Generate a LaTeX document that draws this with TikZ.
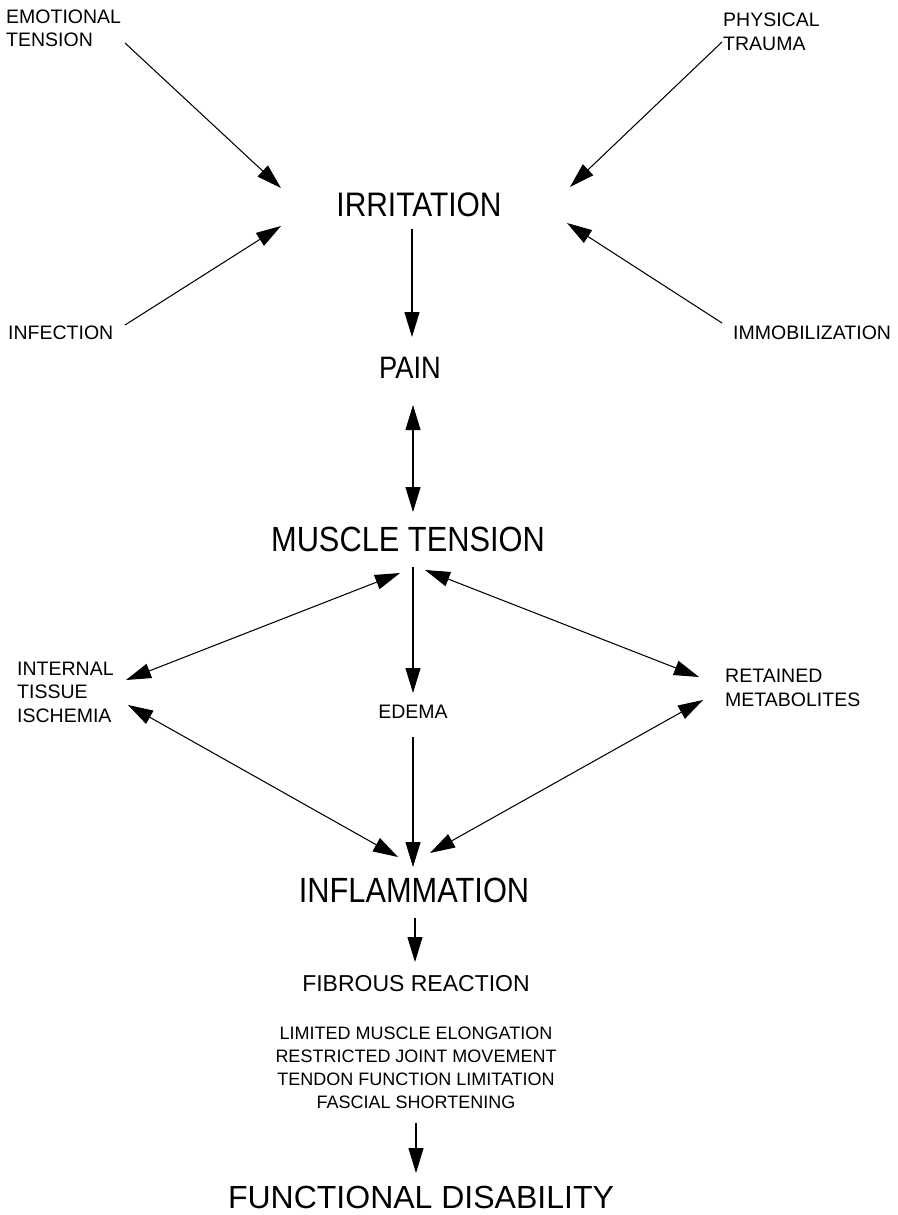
\documentclass[tikz,border=0pt]{standalone}
\usepackage{fontspec}
\setmainfont{Liberation Sans}
\newfontfamily\bigf{Liberation Sans}[FakeStretch=0.88]
\usetikzlibrary{arrows.meta}
\begin{document}
\begin{tikzpicture}[x=1pt,y=-1pt,
  lbl/.style={inner sep=0pt,font=\fontsize{19.5}{23.5}\selectfont,align=left},
  big/.style={inner sep=0pt,font=\bigf\fontsize{#1}{#1}\selectfont},
  arr/.style={line width=1.05pt,-{Triangle[length=25pt,width=15pt]}},
  darr/.style={line width=1.05pt,{Triangle[length=25pt,width=15pt]}-{Triangle[length=25pt,width=15pt]}}]
\useasboundingbox[fill=white] (0,0) rectangle (897,1215);

% nodes
\node[lbl,anchor=west] (emo) at (6,28.5) {EMOTIONAL\\TENSION};
\node[lbl,anchor=west] (phy) at (723,32) {PHYSICAL\\TRAUMA};
\node[lbl,anchor=west] (inf) at (8,333) {INFECTION};
\node[lbl,anchor=west] (imm) at (733,333) {IMMOBILIZATION};
\node[big=34] (irr) at (419,205) {IRRITATION};
\node[big=31] (pain) at (410,368) {PAIN};
\node[big=35] (mus) at (408,539) {MUSCLE TENSION};
\node[lbl,anchor=west] (int) at (17,692) {INTERNAL\\TISSUE\\ISCHEMIA};
\node[lbl] (ede) at (413,712) {EDEMA};
\node[lbl,anchor=west] (ret) at (725,688) {RETAINED\\METABOLITES};
\node[big=35] (infl) at (414,890) {INFLAMMATION};
\node[inner sep=0pt,font=\fontsize{23}{23}\selectfont] (fib) at (416,984) {FIBROUS REACTION};
\node[inner sep=0pt,align=center,font=\fontsize{18}{23}\selectfont] (lim) at (416,1067.5)
  {LIMITED MUSCLE ELONGATION\\RESTRICTED JOINT MOVEMENT\\TENDON FUNCTION LIMITATION\\FASCIAL SHORTENING};
\node[inner sep=0pt,font=\fontsize{32}{32}\selectfont] (fun) at (421,1197) {FUNCTIONAL DISABILITY};

% connectors
\draw[arr] ([shift={(119,14.5)}]emo.west) -- ([shift={(-138,-17)}]irr.center);
\draw[arr] ([shift={(117,-8)}]inf.west) -- ([shift={(-138,21)}]irr.center);
\draw[arr] ([shift={(-1,10)}]phy.west) -- ([shift={(151,-18)}]irr.center);
\draw[arr] ([shift={(-11,-10)}]imm.west) -- ([shift={(148,18)}]irr.center);
\draw[arr] ([shift={(-7,24)}]irr.center) -- ([shift={(2,-31)}]pain.center);
\draw[darr] ([shift={(3,37)}]pain.center) -- ([shift={(5,-27)}]mus.center);
\draw[arr] ([shift={(5,28)}]mus.center) -- ([shift={(0,-19)}]ede.center);
\draw[arr] ([shift={(0,25)}]ede.center) -- ([shift={(-1,-23)}]infl.center);
\draw[darr] ([shift={(-8,34)}]mus.center) -- ([shift={(109,-12)}]int.west);
\draw[darr] ([shift={(111,13)}]int.west) -- ([shift={(-16,-33)}]infl.center);
\draw[darr] ([shift={(17,31)}]mus.center) -- ([shift={(-26,-11)}]ret.west);
\draw[darr] ([shift={(-22,12)}]ret.west) -- ([shift={(16,-37)}]infl.center);
\draw[arr] ([shift={(1,28)}]infl.center) -- ([shift={(-1,-22)}]fib.center);
\draw[arr] ([shift={(0,55.5)}]lim.center) -- ([shift={(-5,-24)}]fun.center);
\end{tikzpicture}
\end{document}
